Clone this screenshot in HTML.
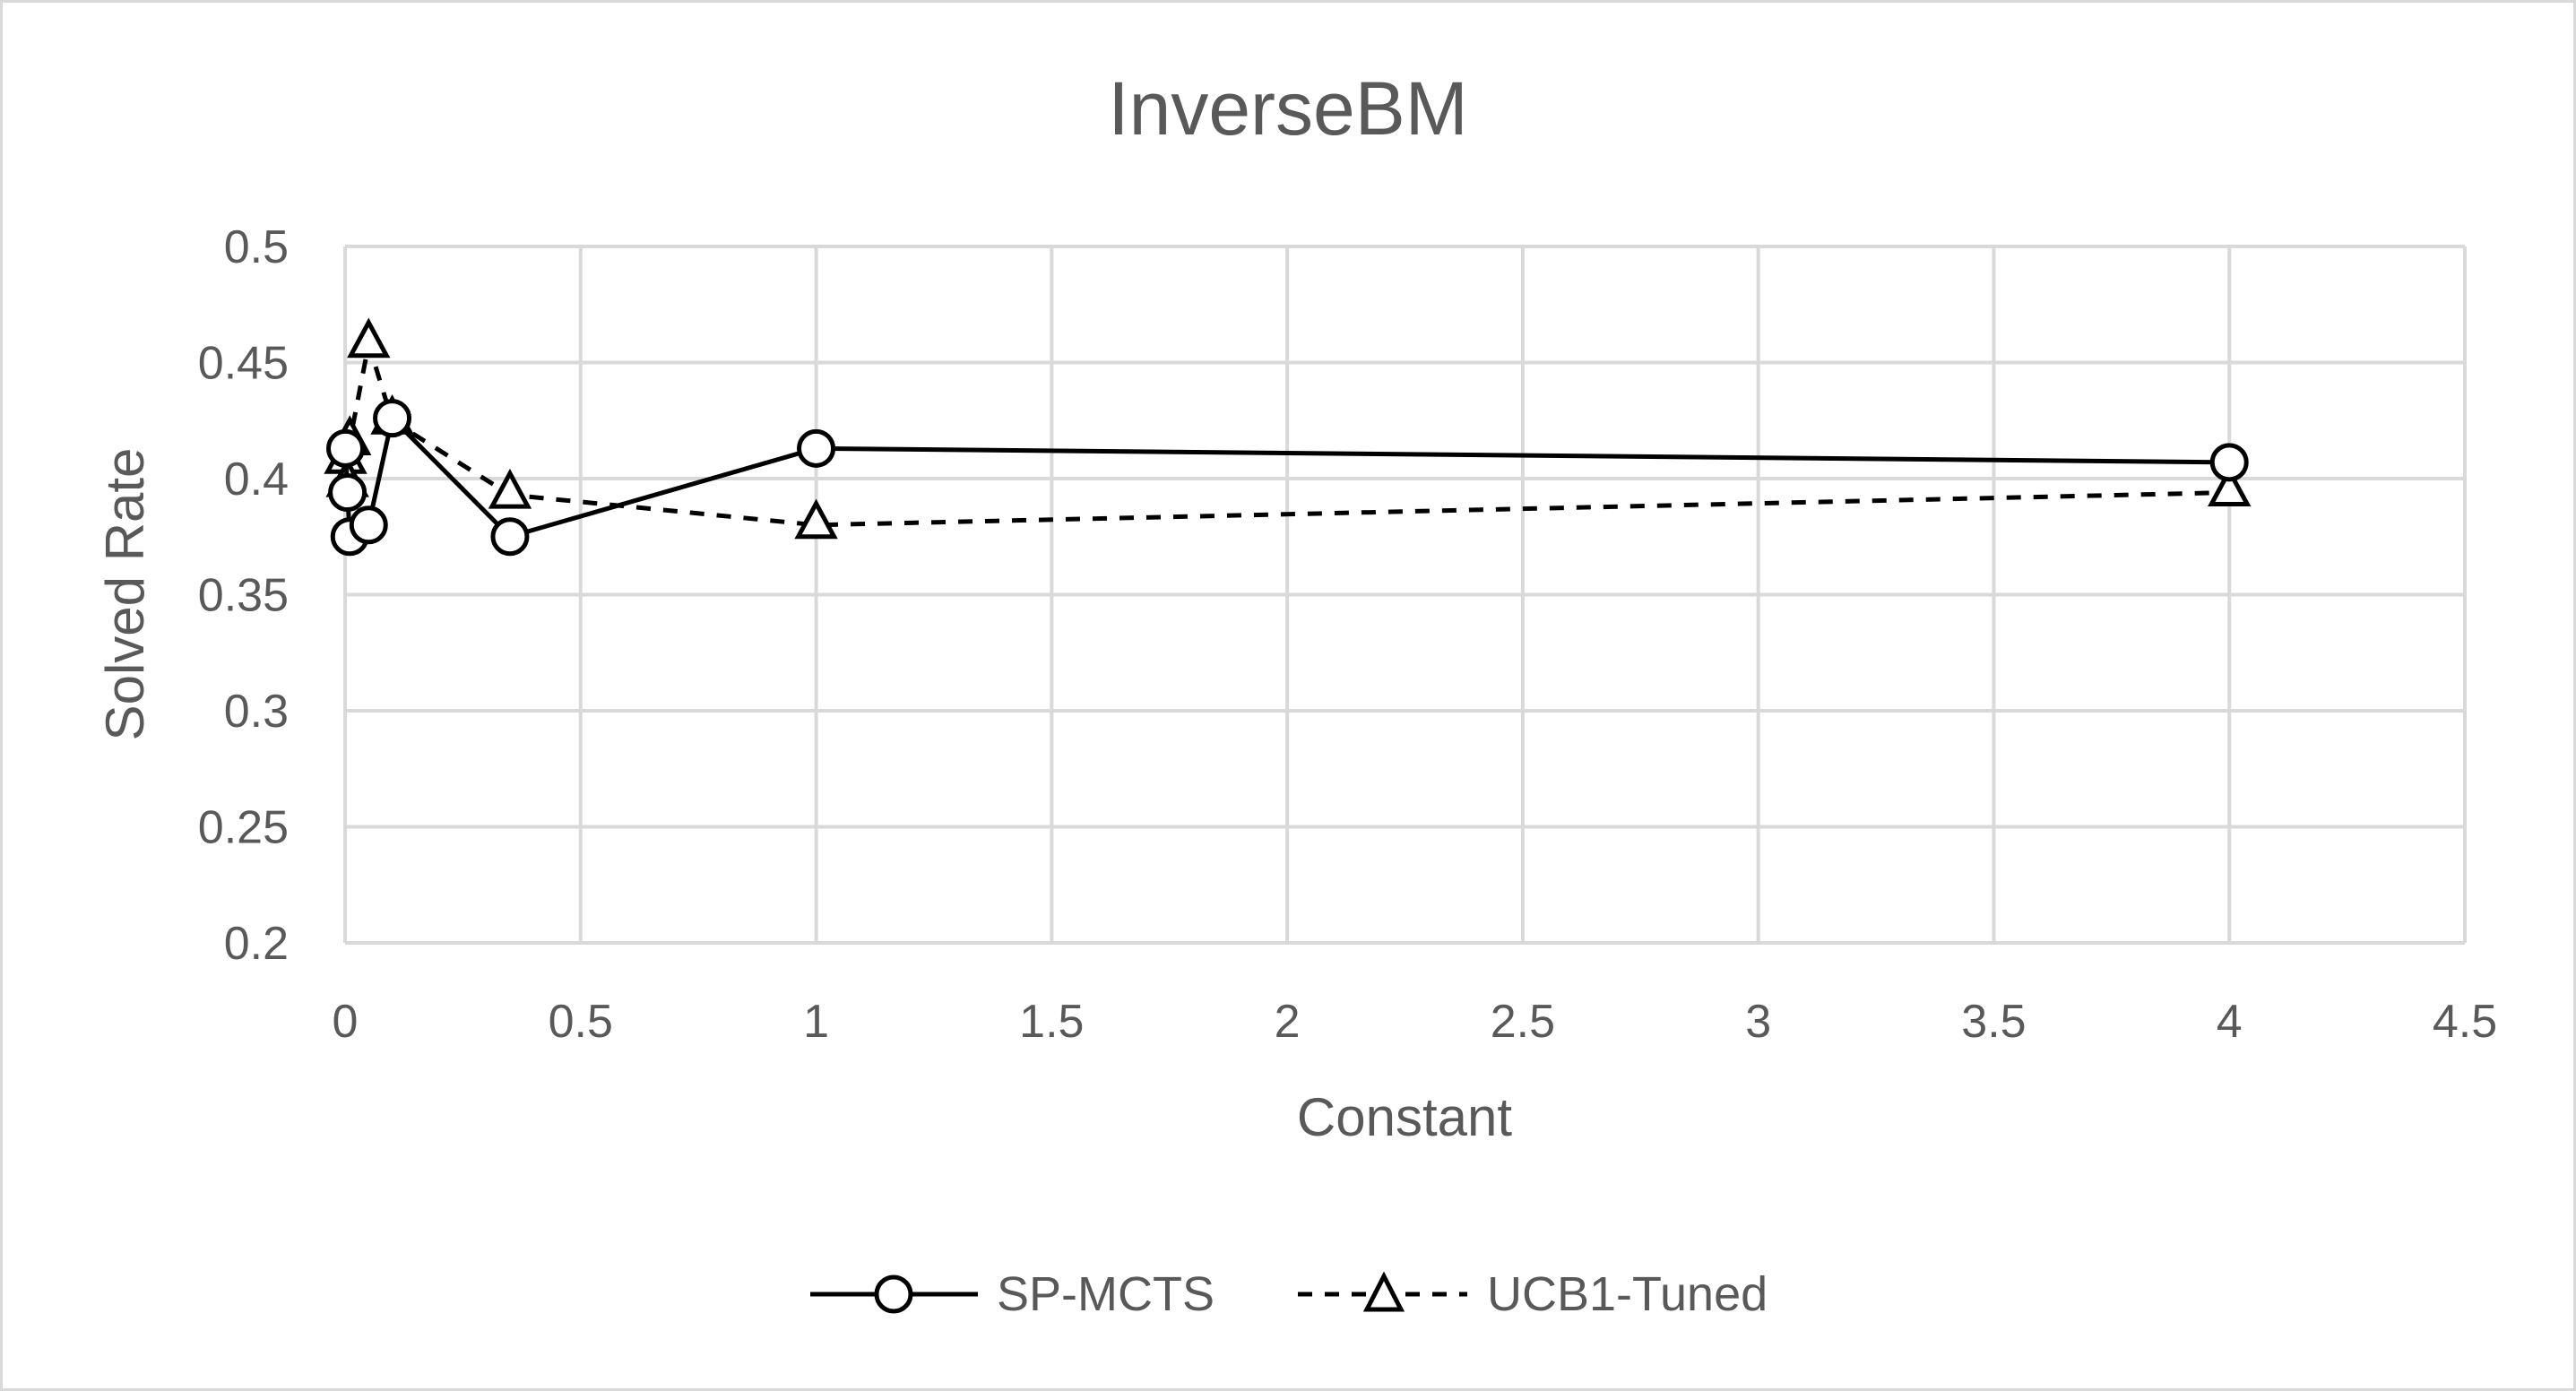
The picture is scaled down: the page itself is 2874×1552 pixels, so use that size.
<!DOCTYPE html>
<html><head><meta charset="utf-8"><style>
html,body{margin:0;padding:0;background:#fff}
svg{display:block}
text{font-family:"Liberation Sans",sans-serif;fill:#595959}
</style></head><body>
<svg id="chart" width="2874" height="1552" viewBox="0 0 2874 1552">
<rect x="1.5" y="1.5" width="2871" height="1549" fill="#fff" stroke="#d9d9d9" stroke-width="3"/>
<text x="1437" y="150" font-size="84" text-anchor="middle">InverseBM</text>
<g id="grid"></g>
<g id="series"></g>
<text x="1567" y="1267" font-size="60" text-anchor="middle">Constant</text>
<text transform="translate(160,663) rotate(-90)" font-size="60" text-anchor="middle">Solved Rate</text>
<g>
<g>
<line x1="904" y1="1444" x2="1091" y2="1444" stroke="#000" stroke-width="5"/>
<circle cx="997" cy="1444" r="19" fill="#fff" stroke="#000" stroke-width="5"/>
<text x="1112" y="1462" font-size="54">SP-MCTS</text>
</g>
<g>
<line x1="1448" y1="1444" x2="1637" y2="1444" stroke="#000" stroke-width="5" stroke-dasharray="16,14"/>
<path d="M1544,1424 L1563,1461 L1525,1461 Z" fill="#fff" stroke="#000" stroke-width="5"/>
<text x="1659" y="1462" font-size="54">UCB1-Tuned</text>
</g>
</g>
</svg>
<script>
const xTicks=[0,0.5,1,1.5,2,2.5,3,3.5,4,4.5];
const xTickLabels=["0","0.5","1","1.5","2","2.5","3","3.5","4","4.5"];
const yTicks=[0.2,0.25,0.3,0.35,0.4,0.45,0.5];
const yTickLabels=["0.2","0.25","0.3","0.35","0.4","0.45","0.5"];
const spX=[0.001,0.005,0.01,0.05,0.1,0.35,1,4];
const spY=[0.413,0.394,0.375,0.380,0.426,0.375,0.413,0.407];
const ucbX=[0.001,0.005,0.01,0.05,0.1,0.35,1,4];
const ucbY=[0.408,0.398,0.416,0.458,0.425,0.393,0.380,0.394];
const L=385,R=2750,T=275,B=1052;
const sx=v=>L+(v-0)/(4.5-0)*(R-L);
const sy=v=>B-(v-0.2)/(0.5-0.2)*(B-T);
const NS="http://www.w3.org/2000/svg";
const grid=document.getElementById('grid'),ser=document.getElementById('series');
function mk(tag,attrs,parent){const e=document.createElementNS(NS,tag);for(const k in attrs)e.setAttribute(k,attrs[k]);parent.appendChild(e);return e;}
xTicks.forEach((t,i)=>{
 const g=mk('line',{x1:sx(t),x2:sx(t),y1:T,y2:B,stroke:'#d9d9d9','stroke-width':4},grid);
 
 
 const tx=mk('text',{x:sx(t),y:1157,'font-size':52,'text-anchor':'middle'},grid);
 
 
 tx.textContent=xTickLabels[i];
});
yTicks.forEach((t,i)=>{
 const g=mk('line',{x1:L,x2:R,y1:sy(t),y2:sy(t),stroke:'#d9d9d9','stroke-width':4},grid);
 
 
 const tx=mk('text',{x:322,y:sy(t)+18,'font-size':52,'text-anchor':'end'},grid);
 
 
 tx.textContent=yTickLabels[i];
});
function draw(xs,ys,dash,name,marker){
 const p=mk('polyline',{points:xs.map((x,i)=>sx(x)+','+sy(ys[i])).join(' '),fill:'none',stroke:'#000','stroke-width':5,'stroke-dasharray':dash},ser);
 
 
 xs.forEach((x,i)=>{
  const cx=sx(x),cy=sy(ys[i]);let m;
  if(marker==='circle')m=mk('circle',{cx:cx,cy:cy,r:19,fill:'#fff',stroke:'#000','stroke-width':5},ser);
  else m=mk('path',{d:`M${cx},${cy-24} L${cx+20},${cy+13} L${cx-20},${cy+13} Z`,fill:'#fff',stroke:'#000','stroke-width':5},ser);
  
  
 });
}
draw(ucbX,ucbY,'16,14','ucb1-tuned','triangle');
draw(spX,spY,'none','sp-mcts','circle');
</script>
</body></html>
